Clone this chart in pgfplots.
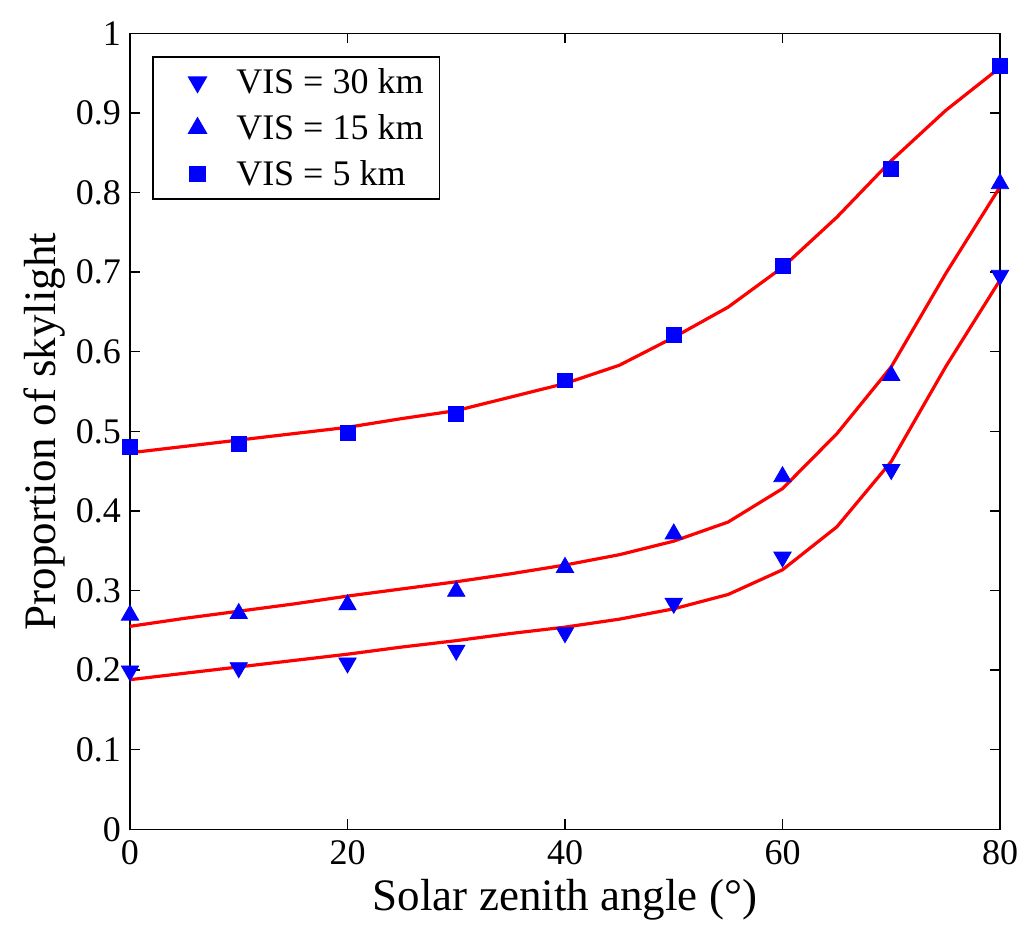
\documentclass[border=0pt]{standalone}
\usepackage{fontspec}
\setmainfont{Liberation Serif}
\usepackage{pgfplots}
\pgfplotsset{compat=1.18}
\definecolor{mblue}{RGB}{0,0,255}
\definecolor{mred}{RGB}{255,0,0}
\begin{document}
\begin{tikzpicture}
\begin{axis}[
  scale only axis,
  width=435pt, height=398pt,
  xmin=0, xmax=80, ymin=0, ymax=1,
  xtick={0,20,40,60,80},
  xticklabels={0,20,40,60,80},
  ytick={0,0.1,0.2,0.3,0.4,0.5,0.6,0.7,0.8,0.9,1},
  yticklabels={0,0.1,0.2,0.3,0.4,0.5,0.6,0.7,0.8,0.9,1},
  tick align=inside,
  major tick length=5pt,
  tick style={black, line width=0.7pt},
  axis line style={black, line width=0.75pt},
  ticklabel style={font=\rmfamily\fontsize{18}{20}\selectfont},
  /pgf/number format/assume math mode=true,
  xticklabel style={yshift=-2pt},
  yticklabel style={xshift=-1pt},
  xlabel={Solar zenith angle (°)},
  ylabel={Proportion of skylight},
  every axis x label/.style={at={(axis description cs:0.5,-0.089)}, anchor=center, font=\rmfamily\fontsize{22.5}{24}\selectfont},
  every axis y label/.style={at={(axis description cs:-0.0977,0.5)}, rotate=90, anchor=center, font=\rmfamily\fontsize{22.5}{24}\selectfont},
  legend style={at={(0.0253,0.971)}, anchor=north west, draw=black, line width=0.75pt,
    font=\rmfamily\fontsize{18}{20}\selectfont, row sep=5pt, inner xsep=6pt, inner ysep=3.5pt},
  legend cell align=left,
  legend image code/.code={\path (-16pt,0pt) (17pt,0pt); \draw plot coordinates {(0pt,0pt)};},
]
% fitted curves
\addplot[mred, line width=1.6pt, forget plot] coordinates {
 (0,0.188) (5,0.196) (10,0.204) (15,0.212) (20,0.220) (25,0.229) (30,0.237) (35,0.246) (40,0.254) (45,0.264) (50,0.277) (55,0.295) (60,0.326) (65,0.380) (70,0.462) (75,0.581) (80,0.690)};
\addplot[mred, line width=1.6pt, forget plot] coordinates {
 (0,0.255) (5,0.265) (10,0.274) (15,0.283) (20,0.293) (25,0.302) (30,0.311) (35,0.321) (40,0.332) (45,0.345) (50,0.362) (55,0.386) (60,0.428) (65,0.497) (70,0.581) (75,0.698) (80,0.807)};
\addplot[mred, line width=1.6pt, forget plot] coordinates {
 (0,0.473) (5,0.481) (10,0.489) (15,0.497) (20,0.505) (25,0.516) (30,0.526) (35,0.543) (40,0.560) (45,0.583) (50,0.618) (55,0.656) (60,0.706) (65,0.769) (70,0.840) (75,0.903) (80,0.957)};
% data points
\addplot[only marks, mark=triangle*, mark options={rotate=180, fill=mblue, draw=mblue}, mark size=5pt] coordinates {
 (0,0.199) (10,0.203) (20,0.209) (30,0.225) (40,0.247) (50,0.284) (60,0.342) (70,0.452) (80,0.696)};
\addlegendentry{VIS = 30 km}
\addplot[only marks, mark=triangle*, mark options={fill=mblue, draw=mblue}, mark size=5pt] coordinates {
 (0,0.269) (10,0.271) (20,0.282) (30,0.299) (40,0.329) (50,0.371) (60,0.443) (70,0.570) (80,0.811)};
\addlegendentry{VIS = 15 km}
\addplot[only marks, mark=square*, mark options={fill=mblue, draw=mblue}, mark size=3.7pt] coordinates {
 (0,0.480) (10,0.484) (20,0.498) (30,0.522) (40,0.564) (50,0.621) (60,0.708) (70,0.830) (80,0.959)};
\addlegendentry{VIS = 5 km}
\end{axis}
\pgfresetboundingbox
\path[use as bounding box] ([xshift=-65pt,yshift=-51.5pt]current axis.south west) rectangle ([xshift=12pt,yshift=16.65pt]current axis.north east);
\end{tikzpicture}
\end{document}
